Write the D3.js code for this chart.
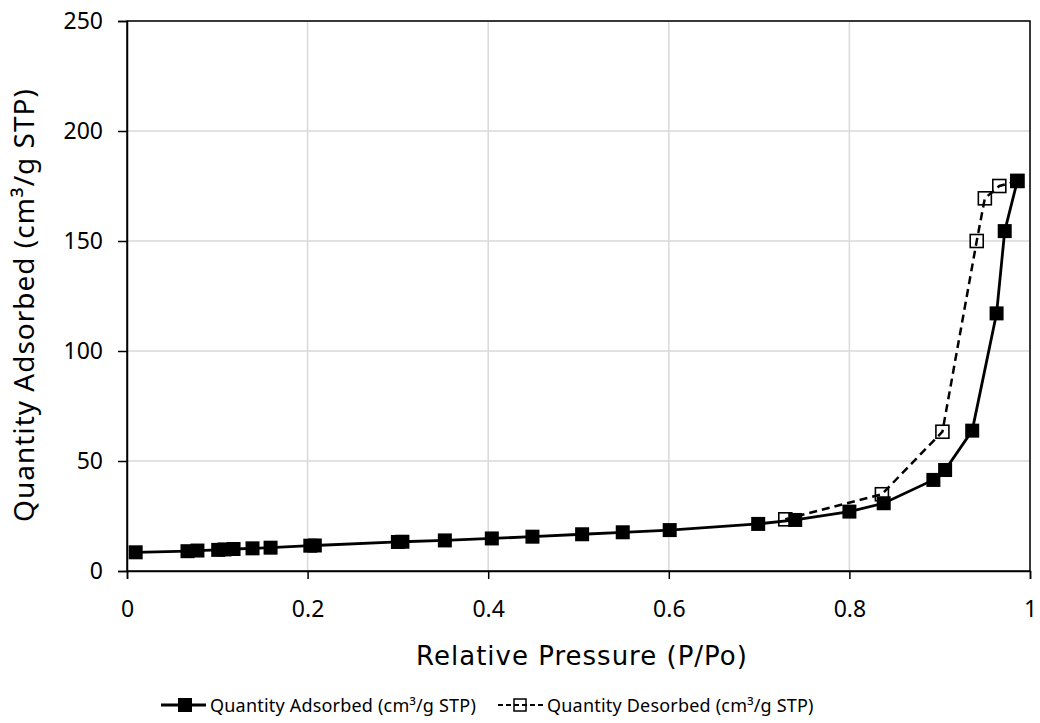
<!DOCTYPE html>
<html>
<head>
<meta charset="utf-8">
<script src="https://cdn.jsdelivr.net/npm/d3@7"></script>
<style>
  body { margin: 0; background: #fff; }
  svg text { font-family: "Noto Sans", "Open Sans", sans-serif; fill: #000; }
</style>
</head>
<body>
<svg width="1040" height="723"></svg>
<script>
// adsorption branch (filled squares)
const ads_p = [0.0096, 0.067, 0.078, 0.101, 0.108, 0.118, 0.139, 0.159, 0.203, 0.208,
               0.300, 0.305, 0.352, 0.404, 0.449, 0.504, 0.549, 0.601, 0.699, 0.740,
               0.800, 0.838, 0.893, 0.906, 0.936, 0.963, 0.972, 0.986];
const ads_q = [8.5, 9.0, 9.3, 9.6, 9.8, 10.0, 10.3, 10.6, 11.5, 11.6,
               13.2, 13.3, 13.9, 14.8, 15.6, 16.7, 17.6, 18.6, 21.4, 23.2,
               27.0, 30.8, 41.4, 45.9, 63.8, 117.1, 154.5, 177.3];
// desorption branch (open squares), starts from the top adsorption point
const des_p = [0.986, 0.966, 0.950, 0.941, 0.903, 0.836, 0.729];
const des_q = [177.3, 175.0, 169.4, 150.0, 63.3, 34.9, 23.5];

const x_ticks = [0, 0.2, 0.4, 0.6, 0.8, 1];
const y_ticks = [0, 50, 100, 150, 200, 250];
const x_title = "Relative Pressure (P/Po)";
const y_title = "Quantity Adsorbed (cm³/g STP)";
const series_names = ["Quantity Adsorbed (cm³/g STP)", "Quantity Desorbed (cm³/g STP)"];

const svg = d3.select("svg");
const x = d3.scaleLinear().domain([0, 1]).range([127, 1030]);
const y = d3.scaleLinear().domain([0, 250]).range([571, 21]);

// grid
svg.append("g").selectAll("line")
  .data(x_ticks.slice(1))
  .enter().append("line")
  .attr("x1", d => x(d)).attr("x2", d => x(d))
  .attr("y1", y(0)).attr("y2", y(250))
  .attr("stroke", "#d9d9d9").attr("stroke-width", 1.5);
svg.append("g").selectAll("line")
  .data(y_ticks.slice(1))
  .enter().append("line")
  .attr("x1", x(0)).attr("x2", x(1))
  .attr("y1", d => y(d)).attr("y2", d => y(d))
  .attr("stroke", "#d9d9d9").attr("stroke-width", 1.5);

// frame
svg.append("rect")
  .attr("x", x(0)).attr("y", y(250))
  .attr("width", x(1) - x(0)).attr("height", y(0) - y(250))
  .attr("fill", "none").attr("stroke", "#000").attr("stroke-width", 1.5);

// axes
const xAxis = svg.append("g")
  .attr("transform", `translate(0,${y(0)})`)
  .call(d3.axisBottom(x).tickValues(x_ticks).tickSize(8)
    .tickFormat(d => d3.format("")(d)));
xAxis.selectAll(".tick text").attr("y", 46).attr("dy", null);
const yAxis = svg.append("g")
  .attr("transform", `translate(${x(0)},0)`)
  .call(d3.axisLeft(y).tickValues(y_ticks).tickSize(9).tickPadding(15));
[xAxis, yAxis].forEach(a => {
  a.select(".domain").attr("stroke", "#000").attr("stroke-width", 1.5);
  a.selectAll(".tick line").attr("stroke", "#000").attr("stroke-width", 1.5);
  a.selectAll(".tick text")
    .attr("font-size", null).attr("font-family", null)
    .style("font-size", "23px")
    .style("font-family", '"Noto Sans", sans-serif').attr("fill", "#000");
});

// titles
svg.append("text")
  .attr("x", 582).attr("y", 665)
  .attr("text-anchor", "middle")
  .style("font-family", '"DejaVu Sans", Verdana, sans-serif')
  .style("font-size", "26px").style("letter-spacing", "1px")
  .text(x_title);
svg.append("text")
  .attr("transform", `translate(34,305) rotate(-90)`)
  .attr("text-anchor", "middle")
  .style("font-size", "28px").style("letter-spacing", "1px")
  .text(y_title);

const ads = ads_p.map((p, i) => ({p: p, q: ads_q[i]}));
const des = des_p.map((p, i) => ({p: p, q: des_q[i]}));

const line = d3.line().x(d => x(d.p)).y(d => y(d.q));

const s_full = 14, s_open = 13;
svg.append("g").selectAll("rect")
  .data(des)
  .enter().append("rect")
  .attr("x", d => x(d.p) - s_open / 2).attr("y", d => y(d.q) - s_open / 2)
  .attr("width", s_open).attr("height", s_open)
  .attr("fill", "#fff").attr("stroke", "#000").attr("stroke-width", 1.6);
svg.append("path")
  .datum(des)
  .attr("d", line)
  .attr("fill", "none").attr("stroke", "#000")
  .attr("stroke-width", 2.5).attr("stroke-dasharray", "8,5");
svg.append("path")
  .datum(ads)
  .attr("d", line)
  .attr("fill", "none").attr("stroke", "#000").attr("stroke-width", 2.8);
svg.append("g").selectAll("rect")
  .data(ads)
  .enter().append("rect")
  .attr("x", d => x(d.p) - s_full / 2).attr("y", d => y(d.q) - s_full / 2)
  .attr("width", s_full).attr("height", s_full)
  .attr("fill", "#000");

// legend
const lg = svg.append("g");
const lx = [161, 498];
const ly = 705;
lg.append("line").attr("x1", lx[0]).attr("x2", lx[0] + 45).attr("y1", ly).attr("y2", ly)
  .attr("stroke", "#000").attr("stroke-width", 2.8);
lg.append("rect").attr("x", lx[0] + 17).attr("y", ly - 7).attr("width", 14).attr("height", 14)
  .attr("fill", "#000");
lg.append("rect").attr("x", lx[1] + 16).attr("y", ly - 6).attr("width", 12).attr("height", 12)
  .attr("fill", "#fff").attr("stroke", "#000").attr("stroke-width", 1.5);
lg.append("line").attr("x1", lx[1]).attr("x2", lx[1] + 46).attr("y1", ly).attr("y2", ly)
  .attr("stroke", "#000").attr("stroke-width", 2.2).attr("stroke-dasharray", "5,3");
series_names.forEach((n, i) => {
  lg.append("text").attr("x", lx[i] + 49).attr("y", ly + 7)
    .style("font-size", "18px").style("letter-spacing", "0.2px").text(n);
});
</script>
</body>
</html>
